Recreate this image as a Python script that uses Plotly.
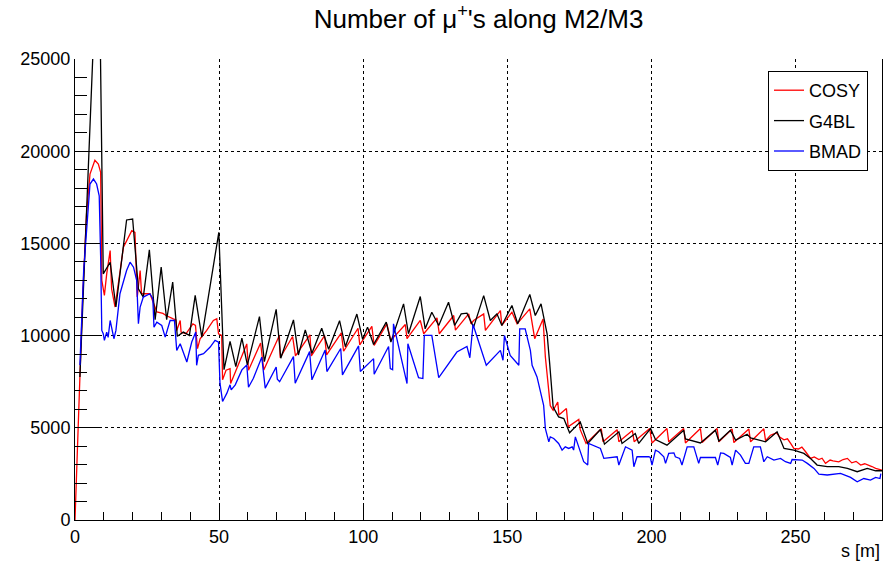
import plotly.graph_objects as go

# ---------------- data ----------------
cosy_s = [0, 0.8, 1.7, 2.7, 4.0, 5.2, 6.9, 8.1, 8.9, 9.3, 10.2, 11.0, 12.2, 12.7, 13.9,
          16.8, 19.7, 20.8, 21.6, 22.6, 23.1, 26.0, 28.4, 30.5, 31.6, 34.1, 35.0, 35.3,
          36.5, 36.8, 38.5, 40.9, 41.8, 42.5, 43.4, 45.7, 48.0, 49.2, 49.8, 50.9, 51.2,
          52.4, 53.8, 54.0, 59.6, 60.2, 64.4, 65.5, 70.9, 71.2, 75.5, 76.5, 81.5, 82.0,
          86.6, 87.3, 92.4, 93.2, 98.2, 98.8, 103.0, 103.8, 108.2, 109.6, 114.6, 115.2,
          119.8, 121.0, 125.6, 126.4, 131.4, 132.0, 136.6, 137.4, 138.3, 141.8, 142.4,
          147.6, 148.1, 151.6, 153.4, 157.8, 159.5, 162.4, 163.2, 164.9, 165.9, 167.5,
          167.9, 170.5, 171.1, 174.8, 175.3, 177.3, 182.6, 183.2, 188.1, 188.7, 193.4,
          194.0, 199.4, 200.2, 205.4, 206.0, 211.2, 211.8, 217.0, 217.6, 222.8, 223.4,
          228.0, 228.6, 233.8, 234.4, 239.0, 239.6, 241.3, 243.4, 244.5, 246.0, 247.2,
          248.3, 249.4, 251.0, 252.2, 253.5, 255.2, 256.5, 258.1, 259.2, 260.4, 262.0,
          263.0, 265.0, 266.5, 268.0, 269.5, 271.0, 272.6, 274.0, 275.0, 276.5, 277.8,
          279.3, 280.0]
cosy_n = [0, 4150, 7760, 12260, 16590, 18760, 19510, 19300, 18850, 12990, 12180, 13350,
          14610, 12540, 11550, 14790, 15690, 15600, 12090, 13530, 12270, 12270, 11280,
          11200, 11090, 10910, 10850, 10280, 10820, 10190, 10100, 10640, 10550, 9290,
          9830, 10280, 10820, 10910, 10100, 10010, 7600, 8120, 8210, 7400, 9550, 8120,
          9600, 8140, 10000, 8800, 9950, 8900, 10040, 8900, 10000, 8950, 10150, 9150,
          10400, 9500, 10500, 9470, 10640, 9740, 10600, 9830, 10820, 10100, 10960, 10100,
          11090, 10300, 11180, 10640, 10820, 11180, 10280, 11360, 10550, 11270, 10640,
          11450, 9830, 10900, 8840, 6200, 5950, 6400, 5700, 6050, 5050, 5450, 4900, 4150,
          4950, 4250, 4900, 4250, 4850, 4250, 4960, 4180, 4960, 4240, 4960, 4180, 4960,
          4200, 4960, 4240, 4930, 4200, 4930, 4240, 4950, 4300, 4600, 4730, 4500, 4350,
          4400, 4150, 3880, 3850, 3950, 3700, 3340, 3420, 3280, 3350, 3070, 3250, 3200,
          3150, 3280, 3340, 3100, 3180, 2980, 3050, 3000, 2900, 2800, 2710, 2700]

g4bl_s = [1.7, 8.2, 9.8, 12.2, 14.2, 17.9, 20.0, 22.0, 23.7, 25.8, 27.8, 29.9, 31.8, 33.9,
          35.5, 37.6, 39.7, 41.7, 44.0, 49.9, 51.7, 53.8, 55.8, 57.9, 59.8, 64.0, 65.7,
          69.8, 71.4, 75.8, 77.5, 79.9, 82.2, 85.6, 88.0, 91.8, 93.8, 97.8, 99.8, 101.5,
          103.6, 108.0, 109.6, 114.0, 115.7, 119.8, 121.5, 123.8, 126.2, 129.6, 131.7,
          134.0, 136.0, 138.3, 141.8, 144.1, 146.4, 148.1, 151.6, 153.6, 157.8, 159.7,
          161.7, 163.8, 164.7, 165.9, 167.8, 169.6, 171.6, 173.6, 175.3, 177.9, 182.3,
          183.7, 188.7, 189.8, 194.4, 195.6, 199.7, 201.4, 205.4, 211.2, 211.8, 217.0,
          222.2, 223.4, 227.4, 229.2, 233.2, 234.4, 239.6, 243.6, 246.0, 249.4, 252.9,
          255.2, 257.5, 261.0, 265.0, 268.0, 271.4, 274.9, 277.8, 280.0]
g4bl_n = [7760, 33000, 13350, 13980, 11550, 16270, 16320, 12540, 12090, 14650, 10860,
          13710, 10860, 12900, 9960, 10190, 10010, 12180, 9920, 15600, 8150, 9680, 8320,
          9860, 8410, 11030, 8590, 11420, 8770, 10850, 8950, 10310, 9040, 10400, 9260,
          10810, 9400, 11170, 9800, 10460, 9520, 10730, 9650, 11720, 10100, 12120, 10370,
          11270, 10550, 11810, 10550, 11180, 11220, 10460, 12170, 10820, 11180, 10550,
          11630, 10640, 12230, 11090, 11720, 10100, 8480, 6130, 5590, 5500, 4730, 5050,
          5320, 4150, 4910, 4110, 4780, 4150, 4690, 4150, 4960, 4360, 4060, 4870, 4400,
          4180, 4870, 4280, 4870, 4330, 4650, 4450, 4240, 4780, 3880, 3790, 3610, 3330,
          2980, 2890, 2890, 2800, 2620, 2800, 2670, 2670]

bmad_s = [1.7, 3.0, 5.2, 6.4, 7.5, 8.4, 8.9, 9.3, 9.8, 10.2, 11.0, 11.5, 12.2, 12.7, 13.5,
          14.2, 15.6, 17.9, 19.1, 20.3, 21.4, 22.0, 22.6, 23.7, 26.0, 27.0, 27.4, 28.4,
          30.1, 31.3, 33.0, 34.5, 35.3, 36.5, 38.8, 40.5, 41.9, 42.2, 42.8, 44.6, 46.9,
          48.6, 49.8, 50.3, 51.2, 52.7, 53.8, 54.2, 55.6, 57.9, 59.6, 60.2, 61.9, 64.8,
          66.0, 69.8, 70.2, 71.0, 75.8, 76.4, 81.4, 82.2, 86.8, 87.4, 92.2, 92.8, 98.4,
          99.0, 103.6, 103.8, 108.8, 109.4, 110.2, 110.5, 115.2, 115.5, 119.2, 120.7,
          121.2, 123.8, 126.2, 132.5, 136.0, 137.0, 138.1, 142.7, 147.6, 148.5, 149.0,
          151.0, 153.4, 154.0, 154.3, 156.2, 158.0, 158.6, 160.3, 162.6, 163.2, 163.8,
          164.4, 164.9, 166.1, 167.8, 169.0, 170.1, 171.3, 172.5, 173.0, 173.6, 176.5,
          177.9, 178.2, 182.3, 183.5, 188.1, 188.7, 191.0, 193.3, 193.9, 195.0, 199.1,
          199.6, 200.2, 201.4, 202.5, 204.3, 204.9, 206.0, 207.8, 208.3, 209.8, 210.6,
          212.4, 214.7, 216.4, 217.0, 222.2, 223.0, 224.0, 225.1, 227.4, 228.0, 229.2,
          230.9, 232.6, 233.8, 235.5, 237.8, 239.0, 240.2, 242.5, 244.8, 246.5, 248.3,
          248.8, 252.3, 254.1, 256.4, 258.1, 261.0, 265.6, 269.1, 271.4, 273.7, 276.0,
          277.8, 279.3, 279.6]
bmad_n = [8400, 13500, 18220, 18490, 18220, 17580, 14250, 10280, 10100, 9740, 10190, 9900,
          10820, 10460, 9830, 10280, 12270, 13530, 13980, 13710, 12990, 10640, 11550,
          12090, 12270, 12000, 10460, 10730, 10550, 9920, 10820, 10820, 9200, 9560, 8570,
          9650, 10190, 8390, 8930, 9020, 9380, 9740, 9650, 7420, 6430, 6880, 7330, 7060,
          7330, 8140, 8410, 7200, 7690, 8830, 7150, 8300, 7640, 7500, 8860, 7420, 9130,
          7600, 9220, 8050, 9300, 7870, 9440, 8050, 8750, 7900, 9410, 8210, 8150, 10640,
          7400, 9560, 7720, 7670, 10010, 10010, 7720, 9110, 9410, 8800, 10600, 8390, 9200,
          8660, 10010, 8930, 8480, 8390, 10370, 10370, 9200, 8390, 7760, 6220, 4960, 4600,
          4240, 4510, 4420, 4150, 3790, 3970, 3880, 3970, 3790, 4510, 3160, 2980, 4150,
          3880, 3340, 3430, 2980, 3970, 3790, 2890, 3430, 3430, 3390, 2980, 3790, 3700,
          3430, 3070, 3610, 3640, 3430, 3340, 2980, 3970, 3970, 3070, 3390, 3390, 2980,
          3640, 3610, 3390, 2980, 3790, 3520, 3070, 3070, 3970, 3970, 3160, 3430, 3250,
          3340, 3160, 3070, 3280, 3250, 3070, 2800, 2490, 2440, 2530, 2310, 2070, 2250,
          2160, 2310, 2250, 2520]

series_names = ["COSY", "G4BL", "BMAD"]
series_colors = ["#ff0000", "#000000", "#0000ff"]

title_text = "Number of \u03bc<sup>+</sup>'s along M2/M3"
x_title = "s [m]"

# ---------------- figure ----------------
FONT = "Liberation Sans, Arial, Helvetica, sans-serif"
fig = go.Figure()
for name, xs, ys, col in zip(series_names, [cosy_s, g4bl_s, bmad_s],
                             [cosy_n, g4bl_n, bmad_n], series_colors):
    fig.add_trace(go.Scatter(x=xs, y=ys, mode="lines", name=name,
                             line=dict(color=col, width=1.3), legendgroup=name))

fig.update_layout(
    width=893, height=562,
    margin=dict(l=75, r=11, t=59, b=42),
    paper_bgcolor="white", plot_bgcolor="white",
    font=dict(family=FONT, color="black", size=18),
    title=dict(text=title_text, x=0.5, xanchor="center", xref="paper",
               y=1 - 19 / 562, yanchor="middle", yref="container",
               font=dict(size=26, family=FONT)),
    showlegend=True,
    legend=dict(x=(868 - 75) / 807, xanchor="right", y=(520 - 71) / 461, yanchor="top",
                bordercolor="black", borderwidth=1, bgcolor="white",
                font=dict(size=18, family=FONT), itemwidth=30,
                traceorder="grouped", tracegroupgap=4),
)
fig.update_xaxes(range=[0, 280], dtick=50, tick0=0, ticks="inside", ticklen=16,
                 tickcolor="black", showline=True, linecolor="black", linewidth=1,
                 showgrid=True, gridcolor="black", griddash="dot", gridwidth=1,
                 zeroline=False, tickfont=dict(size=18), tickformat="d",
                 minor=dict(dtick=10, ticks="inside", ticklen=8, tickcolor="black",
                            showgrid=False))
fig.update_yaxes(range=[0, 25000], dtick=5000, tick0=0, ticks="inside", ticklen=25,
                 tickcolor="black", showline=True, linecolor="black", linewidth=1,
                 mirror=True, tickformat="d",
                 showgrid=True, gridcolor="black", griddash="dot", gridwidth=1,
                 zeroline=False, tickfont=dict(size=18),
                 minor=dict(dtick=1000, ticks="inside", ticklen=12, tickcolor="black",
                            showgrid=False))
fig.add_annotation(text=x_title, xref="paper", yref="paper", x=1, xanchor="right",
                   y=(520 - 551) / 461, yanchor="middle", showarrow=False,
                   font=dict(size=18, family=FONT))

fig.write_html("out.html")
